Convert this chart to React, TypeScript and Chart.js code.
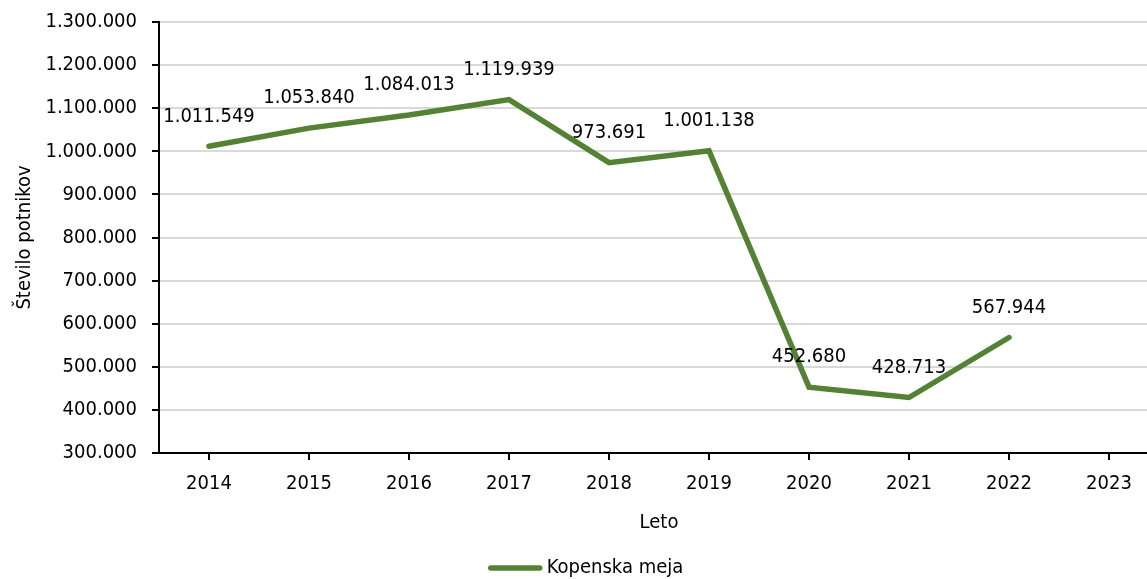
import React, { useEffect, useRef } from "react";
import { Chart, registerables } from "chart.js";

Chart.register(...registerables);

const years = ["2014", "2015", "2016", "2017", "2018", "2019", "2020", "2021", "2022", "2023"];
const passengers: (number | null)[] = [1011549, 1053840, 1084013, 1119939, 973691, 1001138, 452680, 428713, 567944, null];
const seriesName = "Kopenska meja";
const yTitle = "Število potnikov";
const xTitle = "Leto";

const GREEN = "#548235";
const FONT = "'DejaVu Sans Condensed', 'DejaVu Sans', sans-serif";
const FS = 20;

const fmt = (v: number) => Math.round(v).toString().replace(/\B(?=(\d{3})+(?!\d))/g, ".");

const labelPlugin = {
  id: "valueLabels",
  afterDatasetsDraw(chart: any) {
    const ctx = chart.ctx;
    const meta = chart.getDatasetMeta(0);
    const data = chart.data.datasets[0].data;
    ctx.save();
    ctx.font = `${FS}px ${FONT}`;
    ctx.fillStyle = "#000";
    ctx.textAlign = "center";
    ctx.textBaseline = "middle";
    meta.data.forEach((pt: any, i: number) => {
      const v = data[i];
      if (v == null) return;
      ctx.fillText(fmt(v), pt.x, pt.y - 30);
    });
    ctx.restore();
  },
};

const legendPlugin = {
  id: "customLegend",
  afterDraw(chart: any) {
    const ctx = chart.ctx;
    const ds = chart.data.datasets[0];
    ctx.save();
    ctx.font = `${FS}px ${FONT}`;
    const tw = ctx.measureText(ds.label).width;
    const lineW = 55;
    const gap = 4;
    const total = lineW + gap + tw;
    const x0 = chart.width / 2 - total / 2 + 6;
    const y = chart.height - 11;
    ctx.strokeStyle = ds.borderColor;
    ctx.lineWidth = ds.borderWidth;
    ctx.lineCap = "round";
    ctx.beginPath();
    ctx.moveTo(x0 + 3, y);
    ctx.lineTo(x0 + lineW - 3, y);
    ctx.stroke();
    ctx.fillStyle = "#000";
    ctx.textAlign = "left";
    ctx.textBaseline = "middle";
    ctx.fillText(ds.label, x0 + lineW + gap, y);
    ctx.restore();
  },
};

export default function App() {
  const ref = useRef<HTMLCanvasElement>(null);
  useEffect(() => {
    document.body.style.overflow = "hidden";
    const chart = new Chart(ref.current!, {
      type: "line",
      data: {
        labels: years,
        datasets: [
          {
            label: seriesName,
            data: passengers,
            borderColor: GREEN,
            backgroundColor: GREEN,
            borderWidth: 5.5,
            pointRadius: 0,
            pointHoverRadius: 0,
            borderCapStyle: "round",
            borderJoinStyle: "miter",
            tension: 0,
          },
        ],
      },
      options: {
        animation: false,
        responsive: false,
        maintainAspectRatio: false,
        layout: { padding: { top: 22, right: 0, bottom: 36, left: 0 } },
        plugins: {
          tooltip: { enabled: false },
          legend: { display: false },
        },
        scales: {
          x: {
            offset: true,
            grid: { display: true, drawOnChartArea: false, offset: false, tickLength: 7, tickColor: "#000", lineWidth: 2 },
            border: { color: "#000", width: 2 },
            ticks: { font: { family: FONT, size: FS }, color: "#000", padding: 12, maxRotation: 0, autoSkip: false },
            title: { display: true, text: xTitle, font: { family: FONT, size: FS }, color: "#000", padding: { top: 10, bottom: 8 } },
            afterFit: (s: any) => {
              s.height = 90;
            },
          },
          y: {
            min: 300000,
            max: 1300000,
            grid: { color: "#d9d9d9", lineWidth: 2, tickLength: 7, tickColor: "#000" },
            border: { color: "#000", width: 2 },
            ticks: {
              stepSize: 100000,
              font: { family: FONT, size: FS },
              color: "#000",
              padding: 15,
              callback: (v: any) => fmt(Number(v)),
            },
            title: { display: true, text: yTitle, font: { family: FONT, size: FS }, color: "#000", padding: { top: 13, bottom: 0 } },
            afterFit: (s: any) => {
              s.width = 159;
              s.paddingTop = 0;
              s.paddingBottom = 0;
            },
          },
        },
      },
      plugins: [labelPlugin, legendPlugin],
    });
    return () => chart.destroy();
  }, []);
  return (
    <div style={{ position: "fixed", left: 0, top: 0, width: 1159, height: 579, background: "#fff" }}>
      <canvas ref={ref} width={1159} height={579} style={{ width: 1159, height: 579 }} />
    </div>
  );
}
